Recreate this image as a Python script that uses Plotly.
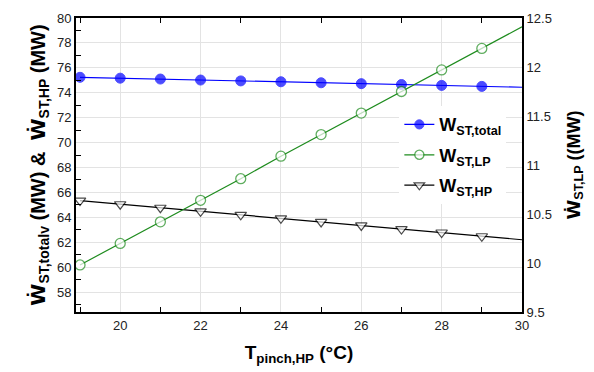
import plotly.graph_objects as go

t_pinch = [19, 20, 21, 22, 23, 24, 25, 26, 27, 28, 29, 30]
w_total = [75.24, 75.17, 75.10, 75.02, 74.95, 74.88, 74.80, 74.73, 74.66, 74.59, 74.51, 74.44]
w_hp = [65.34, 65.05, 64.77, 64.48, 64.20, 63.92, 63.63, 63.35, 63.06, 62.78, 62.48, 62.20]
w_lp = [9.98, 10.20, 10.42, 10.64, 10.86, 11.09, 11.31, 11.53, 11.75, 11.97, 12.19, 12.41]
# markers shown at 19..29 only
msize = [10] * 11 + [0]

FONT = "Liberation Sans, Arial, sans-serif"
WDOT = '<span style="font-family:DejaVu Sans">\u1E86</span>'

fig = go.Figure()
fig.add_trace(go.Scatter(
    x=t_pinch, y=w_total, mode="lines+markers", name="<b>W<sub>ST,total</sub></b>",
    line=dict(color="#0000ff", width=1.2),
    marker=dict(symbol="circle", size=msize, color="#0000ff", line=dict(color="#0000ff", width=1)),
    legendgroup="a", yaxis="y"))
fig.add_trace(go.Scatter(
    x=t_pinch, y=w_lp, mode="lines+markers", name="<b>W<sub>ST,LP</sub></b>",
    line=dict(color="#1e8c1e", width=1.2),
    marker=dict(symbol="circle", size=msize, color="white", line=dict(color="#1e8c1e", width=1.3)),
    legendgroup="b", yaxis="y2"))
fig.add_trace(go.Scatter(
    x=t_pinch, y=w_hp, mode="lines+markers", name="<b>W<sub>ST,HP</sub></b>",
    line=dict(color="black", width=1.2),
    marker=dict(symbol="triangle-down", size=msize, color="white", line=dict(color="black", width=1.2)),
    legendgroup="c", yaxis="y"))

fig.update_layout(
    width=594, height=372,
    margin=dict(l=76, r=72, t=18, b=60),
    paper_bgcolor="white", plot_bgcolor="white",
    font=dict(family=FONT, color="#222", size=13),
    showlegend=True,
    legend=dict(x=0.725, y=0.70, xanchor="left", yanchor="top",
                bgcolor="white", borderwidth=0,
                font=dict(size=18, color="black", family=FONT),
                tracegroupgap=4, itemwidth=30),
    xaxis=dict(
        range=[18.9, 30], tick0=20, dtick=2, ticks="",
        showgrid=True, gridcolor="#e3e3e3", gridwidth=1,
        showline=True, linecolor="black", linewidth=2, mirror="ticks",
        zeroline=False,
        minor=dict(dtick=1, tick0=19, ticks="inside", ticklen=5, tickcolor="black", tickwidth=1, showgrid=False),
        tickfont=dict(size=13, color="#222"),
        title=dict(text="<b>T<sub>pinch,HP</sub> (°C)</b>", font=dict(size=19, color="black"), standoff=14),
    ),
    yaxis=dict(
        range=[56.4, 80], tick0=58, dtick=2, ticks="",
        showgrid=True, gridcolor="#e3e3e3", gridwidth=1,
        showline=True, linecolor="black", linewidth=2, mirror=True,
        zeroline=False,
        minor=dict(dtick=1, tick0=57, ticks="inside", ticklen=5, tickcolor="black", tickwidth=1, showgrid=False),
        tickfont=dict(size=13, color="#222"),
        title=dict(text="<b>" + WDOT + "<sub>ST,totalv</sub> (MW) &amp;  " + WDOT + "<sub>ST,HP</sub> (MW)</b>",
                   font=dict(size=20, color="black"), standoff=6),
    ),
    yaxis2=dict(
        range=[9.5, 12.5], dtick=0.5, tick0=9.5, ticks="",
        overlaying="y", side="right", anchor="x",
        showgrid=False, zeroline=False,
        showline=True, linecolor="black", linewidth=2,
        tickfont=dict(size=13, color="#222"),
        title=dict(text="<b>" + WDOT + "<sub>ST,LP</sub> ((MW)</b>", font=dict(size=18, color="black"), standoff=16),
    ),
)

fig.write_html("out.html")
